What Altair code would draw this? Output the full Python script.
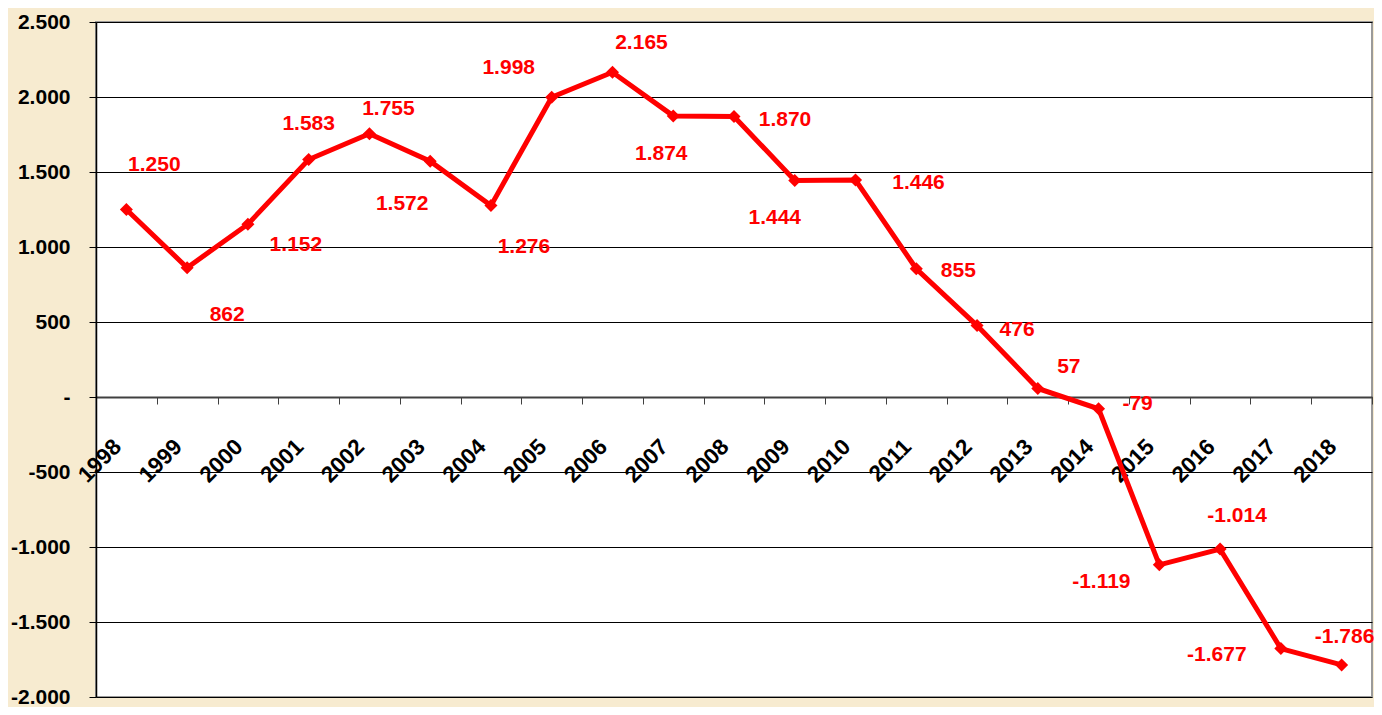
import altair as alt
import pandas as pd

years = ["1998", "1999", "2000", "2001", "2002", "2003", "2004", "2005", "2006", "2007",
         "2008", "2009", "2010", "2011", "2012", "2013", "2014", "2015", "2016", "2017", "2018"]
values = [1250, 862, 1152, 1583, 1755, 1572, 1276, 1998, 2165, 1874,
          1870, 1444, 1446, 855, 476, 57, -79, -1119, -1014, -1677, -1786]
y_ticks = [-2000, -1500, -1000, -500, 0, 500, 1000, 1500, 2000, 2500]

# label placement (pixel offsets of each value label from its point)
label_dx = [28, 40, 48, 0, 19, -28, 33, -43, 29, -12, 51, -20, 63, 42, 40, 31, 39, -58, 17, -64, 3]
label_dy = [-45, 47, 21, -36, -25, 43, 41, -29, -29, 38, 3, 38, 3, 2, 4, -21, -5, 17, -33, 6, -28]


def fmt(v):
    s = f"{abs(v):,}".replace(",", ".")
    return ("-" if v < 0 else "") + s


df = pd.DataFrame({"year": years, "value": values, "label": [fmt(v) for v in values]})

FONT = "Liberation Sans"
RED = "#FF0000"
W, H = 1276, 675
zero_from_bottom = H * 2000 / 4500

x_enc = alt.X(
    "year:N",
    bandPosition=0.5,
    scale=alt.Scale(type="band", paddingInner=0, paddingOuter=0),
    axis=alt.Axis(
        title=None, orient="bottom", offset=-round(zero_from_bottom),
        labelAngle=315, labelAlign="right", labelBaseline="top",
        labelPadding=31, labelOffset=-17, tickBand="extent", tickSize=7,
        tickColor="#404040", domainColor="#404040", domainWidth=2,
        labelFont=FONT, labelFontSize=22.5, labelFontWeight="bold",
        labelColor="black", grid=False, labelOverlap=False,
    ),
)
y_enc = alt.Y(
    "value:Q",
    scale=alt.Scale(domain=[-2000, 2500], nice=False, zero=False),
    axis=alt.Axis(
        title=None, values=y_ticks,
        labelExpr="datum.value == 0 ? '-' : (datum.value < 0 ? '-' : '') + replace(format(abs(datum.value), ','), ',', '.')",
        grid=True, gridColor="black", gridWidth=1, gridOpacity=1,
        domainColor="black", domainWidth=1.5, tickColor="black", tickSize=7,
        labelPadding=19, labelFont=FONT, labelFontSize=21, labelFontWeight="bold",
        labelColor="black",
    ),
)

base = alt.Chart(df)
line = base.mark_line(color=RED, strokeWidth=5).encode(x=x_enc, y=y_enc)
points = base.mark_point(shape="diamond", filled=True, size=170, color=RED, opacity=1).encode(
    x=x_enc, y=y_enc)

layers = [line, points]
for yr, dx, dy in zip(years, label_dx, label_dy):
    layers.append(
        base.transform_filter(alt.datum.year == yr)
        .mark_text(dx=dx, dy=dy, font=FONT, fontSize=21, fontWeight="bold",
                   color=RED, align="center", baseline="middle")
        .encode(x=x_enc, y=y_enc, text="label:N")
    )

chart = (
    alt.layer(*layers)
    .properties(
        width=W, height=H,
        autosize=alt.AutoSizeParams(type="none"),
        padding={"left": 88, "top": 14, "right": 2, "bottom": 10},
        background="#F7EBD0",
    )
    .configure_view(fill="white", stroke="#9A9A9A", strokeWidth=2)
)

chart.save("out.html", embed_options={"renderer": "svg", "actions": False})
